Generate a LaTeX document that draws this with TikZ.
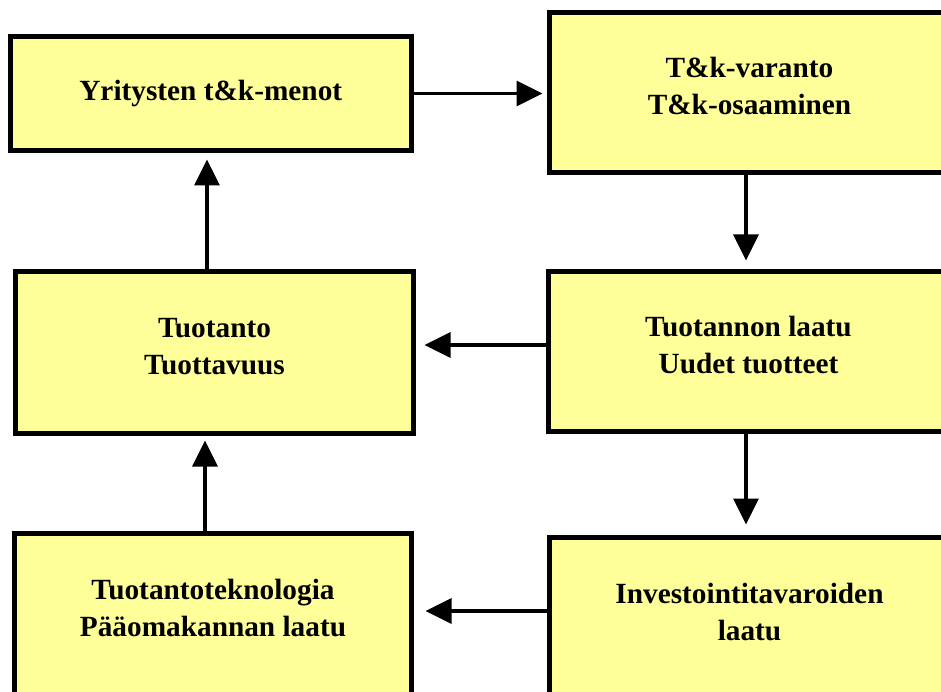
\documentclass[tikz,border=0pt]{standalone}
\usepackage{fontspec}
\setmainfont{Liberation Serif}
\usetikzlibrary{arrows.meta}
\definecolor{boxyellow}{RGB}{255,255,153}
\tikzset{ bx/.style = { rectangle % box
                      , draw
                      , line width = 5pt
                      , fill = boxyellow
                      , align = center
                      , font = \bfseries\fontsize{29.3}{37}\selectfont
                      }
        , tw/.style = { bx % two-line box
                      , text depth = 13pt
                      }
        , ar/.style = { line width = 3.5pt % arrow
                      , -{Triangle[length=26pt, width=25pt]}
                      }
        }

\begin{document}
\begin{tikzpicture}[x=1pt, y=-1pt]
                    \useasboundingbox (0,0) rectangle (941,692);
                    \clip (0,0) rectangle (941,692);
                    % boxes
                    \node[bx, minimum width=400.5pt, minimum height=114pt] (menot) at (210.75, 93.5) {Yritysten t\&k-menot};
                    \node[tw, minimum width=400pt, minimum height=160pt] (varanto) at (749.5, 92.5) {T\&k-varanto\\T\&k-osaaminen};
                    \node[tw, minimum width=398pt, minimum height=162pt] (tuotanto) at (214.5, 352.5) {Tuotanto\\Tuottavuus};
                    \node[tw, minimum width=400pt, minimum height=160pt] (laatu) at (748.5, 351.5) {Tuotannon laatu\\Uudet tuotteet};
                    \node[tw, minimum width=397pt, minimum height=162pt] (tekno) at (213, 614.5) {Tuotantoteknologia\\Pääomakannan laatu};
                    \node[tw, minimum width=400pt, minimum height=162pt] (invest) at (749.5, 618.5) {Investointitavaroiden\\laatu};
                    % arrows
                    \draw[ar, shorten >=4.5pt] (menot.east) -- (menot.east -| varanto.west);
                    \draw[ar, shorten >=8.5pt] ([xshift=-3.5pt]varanto.south) -- ([xshift=-3.5pt]varanto.south |- laatu.north);
                    \draw[ar, shorten >=8.5pt] ([yshift=6.5pt]laatu.west) -- ([yshift=6.5pt]laatu.west -| tuotanto.east);
                    \draw[ar, shorten >=10.5pt] ([xshift=-2.5pt]laatu.south) -- ([xshift=-2.5pt]laatu.south |- invest.north);
                    \draw[ar, shorten >=11.5pt] ([yshift=7.5pt]invest.west) -- ([yshift=7.5pt]invest.west -| tekno.east);
                    \draw[ar, shorten >=4.5pt] ([xshift=-8pt]tekno.north) -- ([xshift=-8pt]tekno.north |- tuotanto.south);
                    \draw[ar, shorten >=6.5pt] ([xshift=-7.5pt]tuotanto.north) -- ([xshift=-7.5pt]tuotanto.north |- menot.south);
                \end{tikzpicture}
\end{document}
